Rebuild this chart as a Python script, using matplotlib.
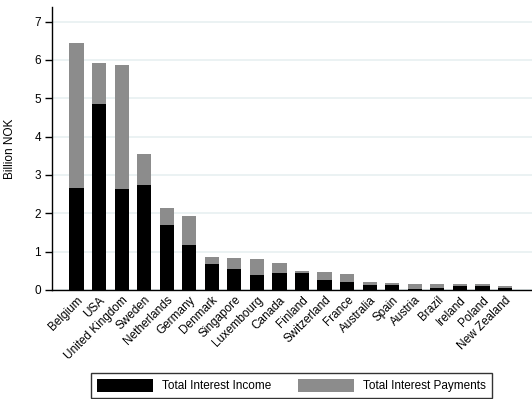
import numpy as np
import matplotlib
matplotlib.use("Agg")
import matplotlib.pyplot as plt
from matplotlib.patches import Patch

plt.rcParams['font.family'] = ['Liberation Sans', 'DejaVu Sans']

countries = ["Belgium", "USA", "United Kingdom", "Sweden", "Netherlands",
             "Germany", "Denmark", "Singapore", "Luxembourg", "Canada",
             "Finland", "Switzerland", "France", "Australia", "Spain",
             "Austria", "Brazil", "Ireland", "Poland", "New Zealand"]
# billion NOK
income = [2.66, 4.86, 2.64, 2.74, 1.69, 1.17, 0.68, 0.55, 0.39, 0.44,
          0.44, 0.26, 0.21, 0.13, 0.13, 0.02, 0.05, 0.11, 0.11, 0.05]
total = [6.45, 5.93, 5.87, 3.56, 2.14, 1.93, 0.86, 0.84, 0.80, 0.70,
         0.50, 0.47, 0.42, 0.21, 0.18, 0.16, 0.16, 0.15, 0.16, 0.10]
payments = [t - i for t, i in zip(total, income)]

fs = 8.5
grey = "#8c8c8c"

fig = plt.figure(figsize=(5.32, 3.99), dpi=100)
ax = fig.add_axes([52 / 532, 1 - 290 / 399, 1 - 52 / 532, (290 - 6.7) / 399])

x = np.arange(len(countries))
ax.bar(x, income, width=0.63, color="black", zorder=3)
ax.bar(x, payments, width=0.63, bottom=income, color=grey, zorder=3)

ax.set_xlim(-1.09, 20.2)
ax.set_ylim(0, 7.39)
ax.set_yticks(range(8))
ax.yaxis.grid(True, color="#e8f0f1", linewidth=1.2, zorder=0)
ax.set_xticks(x)
ax.set_xticklabels(countries, rotation=45, ha="right", va="top",
                   rotation_mode="anchor", fontsize=fs)
ax.tick_params(axis="x", length=0, pad=3)
ax.tick_params(axis="y", length=5, width=1, labelsize=fs, pad=3)
for s in ["top", "right"]:
    ax.spines[s].set_visible(False)
ax.spines["left"].set_linewidth(1)
ax.spines["bottom"].set_linewidth(1)
ax.set_ylabel("Billion NOK", fontsize=fs)
ax.yaxis.set_label_coords(-0.075, 0.5)

handles = [Patch(facecolor="black", label="Total Interest Income"),
           Patch(facecolor=grey, label="Total Interest Payments")]
leg = fig.legend(handles=handles, loc="upper left", ncol=2,
                 bbox_to_anchor=(91 / 532, 1 - 373 / 399),
                 fontsize=fs, frameon=True, fancybox=False,
                 edgecolor="black", handlelength=4.75, handleheight=1.27,
                 handletextpad=0.76, columnspacing=2.3, borderpad=0.5,
                 borderaxespad=0)
leg.get_frame().set_linewidth(1)

fig.savefig("out.png", dpi=100)
